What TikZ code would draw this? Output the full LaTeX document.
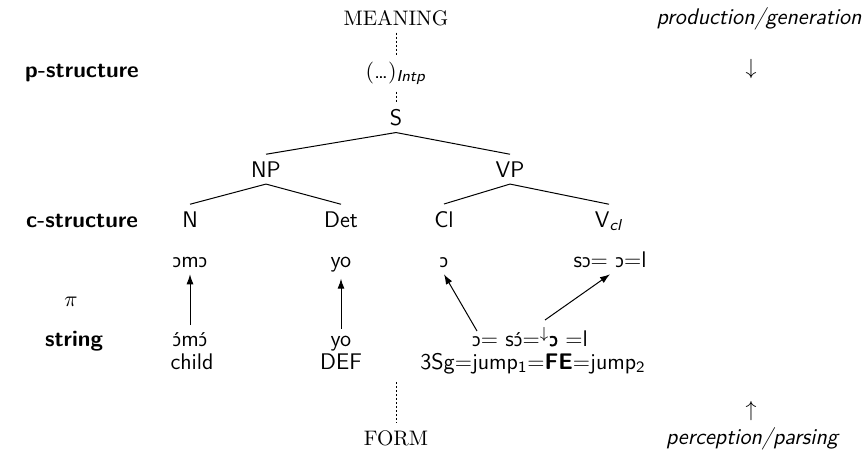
\documentclass[tikz,border=0pt]{standalone}
\usepackage{fontspec}
\newfontfamily\ipafont[Scale=MatchLowercase]{Noto Sans}
\newfontfamily\ipabf[Scale=MatchLowercase,FakeBold=2.5]{Noto Sans}
\usetikzlibrary{arrows.meta}
\newcommand\oo{{\ipafont ɔ}}
\newcommand\ooa{{\ipafont ɔ́}}
\begin{document}
\begin{tikzpicture}[x=0.5pt,y=-0.5pt,
  font=\sffamily\fontsize{11.3}{13}\selectfont,
  lbl/.style={anchor=base},
  sc/.style={anchor=base,font=\rmfamily\fontsize{10.5}{12}\selectfont},
  bar/.style={line width=0.5pt},
  dots/.style={dash pattern=on 1pt off 1pt, line width=0.5pt},
  arr/.style={-{Latex[length=5pt,width=3.5pt]}, line width=0.5pt}]
\useasboundingbox (0,0) rectangle (868,450);

% left labels
\node[lbl] (pst) at (82,77) {\bfseries p-structure};
\node[lbl] (cst) at (82,227) {\bfseries c-structure};
\node[lbl] (pi) at (71,306) {$\pi$};
\node[lbl] (strl) at (74,346) {\bfseries string};

% right labels
\node[lbl] (prod) at (759,24) {\itshape production/generation};
\node (down) at (751,69) {$\downarrow$};
\node (up) at (751,411) {$\uparrow$};
\node[lbl] (perc) at (752,444) {\itshape perception/parsing};

% p-structure and tree
\node[sc] (meaning) at (396,25) {MEANING};
\node[lbl] (intp) at (396,78) {$($\ldots$)$\textsubscript{\textit{Intp}}};
\node[lbl] (S) at (396,125) {S};
\node[lbl] (NP) at (266,177) {NP};
\node[lbl] (VP) at (510,177) {VP};
\node[lbl] (N) at (190,227) {N};
\node[lbl] (Det) at (341,227) {Det};
\node[lbl] (Cl) at (444,227) {Cl};
\node[lbl] (V) at (609,227) {V\textsubscript{\textit{cl}}};

\draw[dots] (meaning.south) -- (intp.north);
\draw[dots] (intp.south) -- (S.north);
\draw[bar] (S.south) -- (NP.north);
\draw[bar] (S.south) -- (VP.north);
\draw[bar] (NP.south) -- (N.north);
\draw[bar] (NP.south) -- (Det.north);
\draw[bar] (VP.south) -- (Cl.north);
\draw[bar] (VP.south) -- (V.north);

% upper word row
\node[lbl] (omo) at (190,267) {\oo m\oo};
\node[lbl] (yo1) at (341,267) {yo};
\node[lbl] (o1) at (444,267) {\oo};
\node[lbl] (so) at (610,267) {s\oo= \oo=l};

% string row
\node[lbl] (omo2) at (190,346) {\ooa m\ooa};
\node[lbl] (yo2) at (341,346) {yo};
\node[lbl] (str) at (530,346) {\oo= s\ooa=$^{\downarrow}${\ipabf ɔ} =l};

% gloss row
\node[lbl] (child) at (192,369) {child};
\node[lbl] (def) at (341,369) {DEF};
\node[lbl] (gl) at (533,369) {3Sg=jump\textsubscript{1}=\textbf{FE}=jump\textsubscript{2}};

\coordinate (s1) at (477,331);
\coordinate (s2) at (545,320);

\draw[arr] (omo2.north) -- (omo.south);
\draw[arr] (yo2.north) -- (yo1.south);
\draw[arr] (s1) -- (o1.south);
\draw[arr] (s2) -- (so.south);

% form
\coordinate (ftop) at (396,382);
\node[sc] (form) at (396,445) {FORM};
\draw[dots] (ftop) -- (form.north);
\end{tikzpicture}
\end{document}
